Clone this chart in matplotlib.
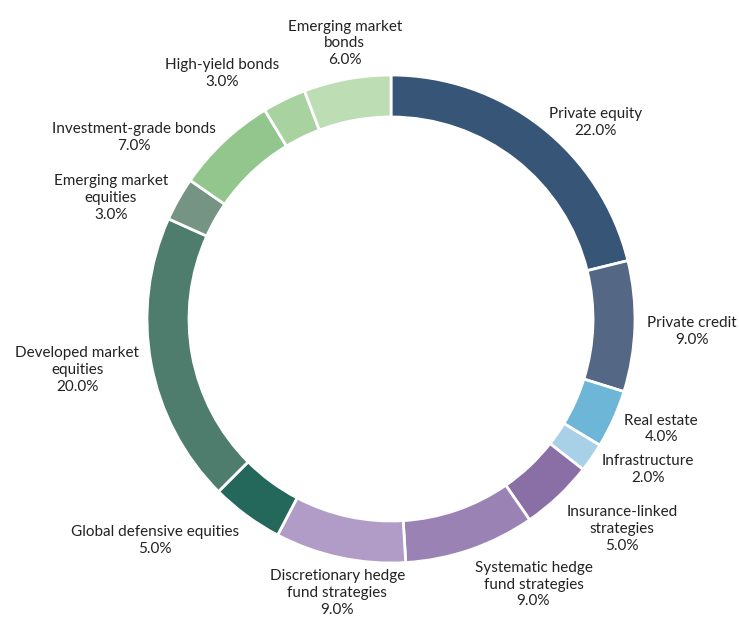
import numpy as np
import matplotlib.pyplot as plt

plt.rcParams['font.family'] = ['Lato', 'DejaVu Sans']

labels = [
    "Private equity", "Private credit", "Real estate", "Infrastructure",
    "Insurance-linked\nstrategies", "Systematic hedge\nfund strategies",
    "Discretionary hedge\nfund strategies", "Global defensive equities",
    "Developed market\nequities", "Emerging market\nequities",
    "Investment-grade bonds", "High-yield bonds", "Emerging market\nbonds",
]
values = [22.0, 9.0, 4.0, 2.0, 5.0, 9.0, 9.0, 5.0, 20.0, 3.0, 7.0, 3.0, 6.0]
colors = [
    "#375577", "#546784", "#6db6d7", "#a8d0e6", "#8a6ea6", "#9a82b4",
    "#b09cc6", "#23685a", "#4e7d6e", "#769484", "#92c68c", "#a8d2a0",
    "#bddeb4",
]

W, H = 739, 619
fig = plt.figure(figsize=(W / 100, H / 100), dpi=100)
ax = fig.add_axes([0, 0, 1, 1])

cx, cy, R = 391, H - 319, 244
wedges, _ = ax.pie(
    values, colors=colors, radius=R, center=(cx, cy), startangle=90,
    counterclock=False, frame=True,
    wedgeprops=dict(width=42, edgecolor='white', linewidth=2),
)
ax.set_xlim(0, W)
ax.set_ylim(0, H)
ax.set_aspect('equal')
ax.axis('off')

# labels sit just outside the ring at each slice's mid-angle
rl = R + 12
for w, lab, v in zip(wedges, labels, values):
    mid = np.deg2rad((w.theta1 + w.theta2) / 2)
    dx, dy = np.cos(mid), np.sin(mid)
    ha = 'left' if dx > 0.3 else ('right' if dx < -0.3 else 'center')
    if dy > 0.85:
        va, shift = 'bottom', 0
    elif dy < -0.7:
        va, shift = 'top', 0
    else:
        va, shift = 'center', -5
    ax.text(cx + rl * dx, cy + rl * dy + shift, f"{lab}\n{v:.1f}%",
            ha=ha, va=va, multialignment='center',
            fontsize=11, color='#222222', linespacing=1.25)

fig.savefig("out.png", dpi=100)
